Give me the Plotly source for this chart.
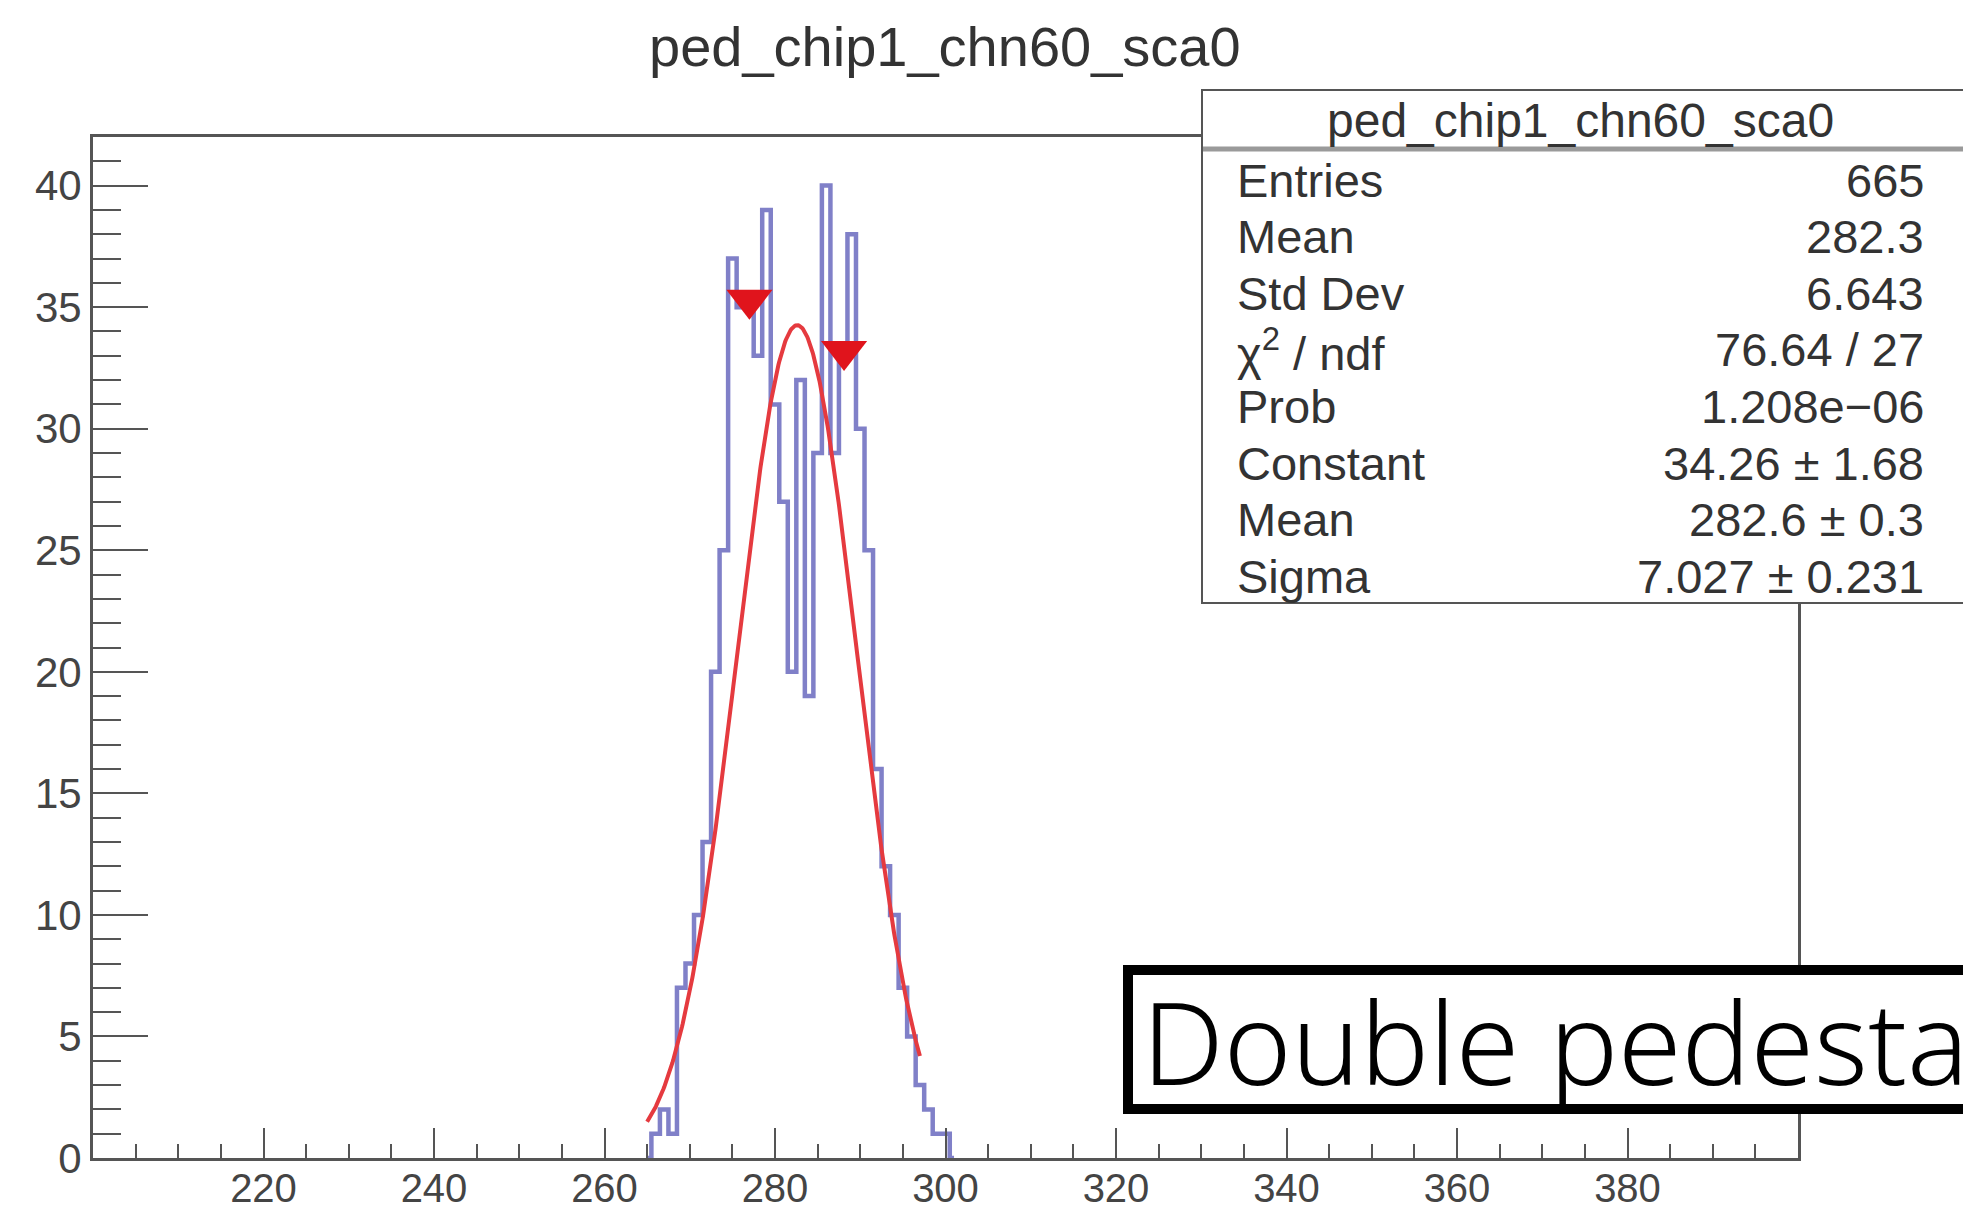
import numpy as np
import plotly.graph_objects as go

# ---------------- data ----------------
hist_title = "ped_chip1_chn60_sca0"
bin_centers = list(range(265, 302))
counts = [0, 1, 2, 1, 7, 8, 10, 13, 20, 25, 37, 35, 35, 33, 39, 31, 27, 20, 32,
          19, 29, 40, 29, 33, 38, 30, 25, 16, 12, 10, 7, 5, 3, 2, 1, 1, 0]

fit_constant = 34.26
fit_mean = 282.6
fit_sigma = 7.027
fit_range = [265.0, 297.0]

peak_x = [277.0, 288.1]
peak_y = [35.3, 33.2]

stat_labels = ["Entries", "Mean", "Std Dev", "χ<sup>2</sup> / ndf", "Prob",
               "Constant", "Mean", "Sigma"]
stat_values = ["665", "282.3", "6.643", "76.64 / 27", "1.208e−06",
               "34.26 ± 1.68", "282.6 ± 0.3", "7.027 ± 0.231"]

x_tick_vals = [220, 240, 260, 280, 300, 320, 340, 360, 380]
y_tick_vals = [0, 5, 10, 15, 20, 25, 30, 35, 40]
x_range = [200, 400]
y_range = [0, 42]

note_text = "Double pedestal"

# ---------------- layout helpers ----------------
W, H = 1963, 1212
L, R, T, B = 93, 165, 137, 54
PW, PH = W - L - R, H - T - B


def px(X):
    return (X - L) / PW


def py(Y):
    return (H - B - Y) / PH


ROOT_FONT = "Liberation Sans, Arial, sans-serif"
TXT = "#333333"

fig = go.Figure()

# histogram outline (bins centred on integers)
fig.add_trace(go.Scatter(
    x=bin_centers, y=counts, mode="lines", line_shape="hvh",
    line=dict(color="#8080c8", width=4.5), hoverinfo="skip", showlegend=False))

# gaussian fit curve from the fitted parameters
xf = np.linspace(fit_range[0], fit_range[1], 400)
yf = fit_constant * np.exp(-0.5 * ((xf - fit_mean) / fit_sigma) ** 2)
fig.add_trace(go.Scatter(
    x=xf, y=yf, mode="lines", line=dict(color="#e53a3f", width=4),
    hoverinfo="skip", showlegend=False))

# peak markers
fig.add_trace(go.Scatter(
    x=peak_x, y=peak_y, mode="markers",
    marker=dict(symbol="triangle-down", size=40, color="#e0141c"),
    hoverinfo="skip", showlegend=False))

shapes = []
annotations = []

# title
annotations.append(dict(
    x=px(945), y=py(47), xref="paper", yref="paper", text=hist_title,
    showarrow=False, xanchor="center", yanchor="middle",
    font=dict(family=ROOT_FONT, size=56, color=TXT)))

# stats box
shapes.append(dict(type="rect", xref="paper", yref="paper",
                   x0=px(1202), x1=px(1985), y0=py(603), y1=py(90),
                   line=dict(color="#555555", width=2), fillcolor="white",
                   layer="above"))
shapes.append(dict(type="line", xref="paper", yref="paper",
                   x0=px(1203), x1=px(1985), y0=py(149), y1=py(149),
                   line=dict(color="#9a9a9a", width=5), layer="above"))
annotations.append(dict(
    x=px(1580), y=py(120), xref="paper", yref="paper", text=hist_title,
    showarrow=False, xanchor="center", yanchor="middle",
    font=dict(family=ROOT_FONT, size=48, color=TXT)))
for i, (lab, val) in enumerate(zip(stat_labels, stat_values)):
    yy = 180 + i * 56.6
    annotations.append(dict(
        x=px(1235), y=py(yy), xref="paper", yref="paper", text=lab,
        showarrow=False, xanchor="left", yanchor="middle",
        font=dict(family=ROOT_FONT, size=47, color=TXT)))
    annotations.append(dict(
        x=px(1926), y=py(yy), xref="paper", yref="paper", text=val,
        showarrow=False, xanchor="right", yanchor="middle",
        font=dict(family=ROOT_FONT, size=47, color=TXT)))

# "Double pedestal" note box
shapes.append(dict(type="rect", xref="paper", yref="paper",
                   x0=px(1128), x1=px(2200), y0=py(1109), y1=py(970),
                   line=dict(color="black", width=10), fillcolor="white",
                   layer="above"))
annotations.append(dict(
    x=px(1140), y=py(1040), xref="paper", yref="paper", text=note_text,
    showarrow=False, xanchor="left", yanchor="middle",
    font=dict(family="Noto Sans, sans-serif", size=115,
              color="black", weight=300)))

fig.update_layout(
    width=W, height=H, margin=dict(l=L, r=R, t=T, b=B, pad=0),
    paper_bgcolor="white", plot_bgcolor="white",
    shapes=shapes, annotations=annotations, showlegend=False,
    font=dict(family=ROOT_FONT, color=TXT),
)

fig.update_xaxes(
    range=x_range, showgrid=False, zeroline=False, automargin=False,
    showline=True, linecolor="#555555", linewidth=3, mirror=True,
    tickmode="array", tickvals=x_tick_vals, ticks="inside", ticklen=30,
    tickwidth=2, tickcolor="#555555", ticklabelstandoff=-7,
    tickfont=dict(family=ROOT_FONT, size=40, color="#444444"),
    minor=dict(ticks="inside", ticklen=14, tickwidth=2, tickcolor="#555555",
               tickmode="linear", tick0=200, dtick=5, showgrid=False),
)
fig.update_yaxes(
    range=y_range, showgrid=False, zeroline=False, automargin=False,
    showline=True, linecolor="#555555", linewidth=3, mirror=True,
    tickmode="array", tickvals=y_tick_vals, ticks="inside", ticklen=55,
    tickwidth=2, tickcolor="#555555",
    tickfont=dict(family=ROOT_FONT, size=42, color="#444444"),
    minor=dict(ticks="inside", ticklen=28, tickwidth=2, tickcolor="#555555",
               tickmode="linear", tick0=0, dtick=1, showgrid=False),
)

fig.write_html("out.html",
               config={"displayModeBar": False},
               post_script="document.body.style.margin='0px';"
                           "document.body.style.overflow='hidden';")
